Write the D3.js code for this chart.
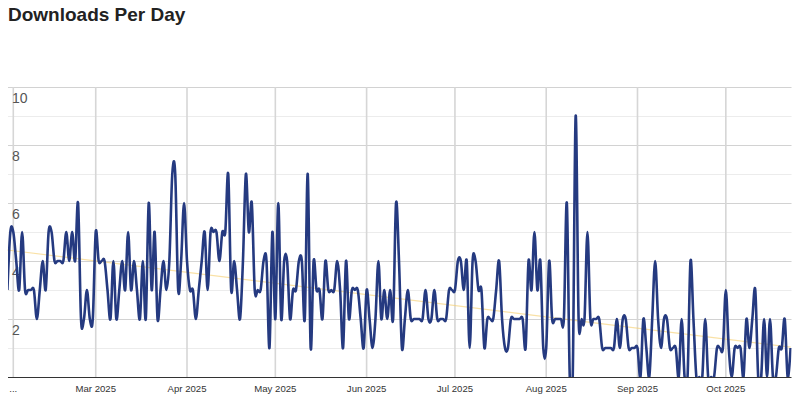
<!DOCTYPE html>
<html>
<head>
<meta charset="utf-8">
<script src="https://cdn.jsdelivr.net/npm/d3@7"></script>
<style>
  html, body { margin: 0; padding: 0; background: #fff; }
  svg { display: block; font-family: "Liberation Sans", Arial, sans-serif; }
</style>
</head>
<body>
<svg id="chart" width="800" height="400"></svg>
<script>
// ---- data ----
const title = "Downloads Per Day";
const startDate = "2025-01-30";
const endDate = "2025-10-23";
const downloads = [
  3,5,5,4,3,5,3,3,3,3,
  2,3,4,3,5,5,4,4,4,4,
  5,4,5,4,6,2,2,3,2,2,
  5,4,4,4,3,2,4,2,3,4,
  3,5,3,4,3,2,4,2,6,3,
  5,2,3,4,3,4,7,7,3,4,
  6,4,3,3,2,3,4,5,3,5,
  5,5,4,5,5,7,3,4,3,2,
  4,7,5,6,3,3,3,4,4,1,
  5,2,6,2,4,4,2,3,3,4,
  4,2,7,1,4,3,3,2,4,3,
  3,3,4,3,1,4,2,3,3,3,
  2,1,3,2,1,2,4,2,3,2,
  3,2,6,4,1,2,3,2,2,2,
  2,2,3,2,2,3,2,2,2,2,
  3,3,3,4,4,3,4,1,4,4,
  3,3,1,2,2,2,3,4,2,1,
  1,2,2,2,2,2,1,4,3,5,
  3,4,1,1,4,2,2,2,2,2,
  6,0,0,9,2,2,2,5,2,2,
  2,2,1,1,1,1,1,2,1,2,
  2,1,1,1,1,0,2,1,0,2,
  4,2,1,2,2,1,1,1,0,2,
  0,0,4,2,0,0,0,2,0,0,
  0,1,1,1,3,1,0,1,1,1,
  0,2,1,2,3,0,0,2,0,2,
  0,0,1,1,2,0,1
];
const trendValues = [4.38, 1.03];           // linear trend, start and end
const monthTicks = ["2025-02-01","2025-03-01","2025-04-01","2025-05-01","2025-06-01",
                    "2025-07-01","2025-08-01","2025-09-01","2025-10-01"];
const monthLabels = ["...","Mar 2025","Apr 2025","May 2025","Jun 2025",
                     "Jul 2025","Aug 2025","Sep 2025","Oct 2025"];
const yTicks = [1,2,3,4,5,6,7,8,9,10];
const yLabels = [2,4,6,8,10];

// ---- layout ----
const padL = 7.4, padR = 790.6, padT = 87, padB = 377;
const parse = d3.utcParse("%Y-%m-%d");
const t0 = parse(startDate), t1 = parse(endDate);
const series = downloads.map((v, i) => ({ date: d3.utcDay.offset(t0, i), value: v }));

const x = d3.scaleUtc().domain([t0, t1]).range([padL, padR]);
const y = d3.scaleLinear().domain([0, 10]).range([padB, padT]);
const gridL = 8, gridR = 791.5;

const svg = d3.select("#chart");

// title
svg.append("text")
  .attr("x", 8).attr("y", 21)
  .attr("font-size", 19).attr("font-weight", "bold")
  .attr("fill", "#222")
  .text(title);

// horizontal grid
svg.append("g").selectAll("line").data(yTicks).join("line")
  .attr("x1", gridL).attr("x2", gridR)
  .attr("y1", d => Math.round(y(d)) + 0.5).attr("y2", d => Math.round(y(d)) + 0.5)
  .attr("stroke", d => d % 2 === 0 ? "#d2d2d2" : "#ececec")
  .attr("stroke-width", 1.2);

// vertical grid
const vt = monthTicks.map(parse);
svg.append("g").selectAll("line").data(vt).join("line")
  .attr("x1", d => x(d)).attr("x2", d => x(d))
  .attr("y1", padT).attr("y2", padB)
  .attr("stroke", "#d6d6d6").attr("stroke-width", 1.6);

// y labels
svg.append("g").selectAll("text").data(yLabels).join("text")
  .attr("x", 12).attr("y", d => y(d) + 16)
  .attr("font-size", 14).attr("fill", "#555")
  .text(d => d);

// baseline
svg.append("line")
  .attr("x1", gridL).attr("x2", gridR)
  .attr("y1", padB + 0.5).attr("y2", padB + 0.5)
  .attr("stroke", "#333").attr("stroke-width", 1.2);

// x labels
svg.append("g").selectAll("text").data(vt).join("text")
  .attr("x", d => x(d)).attr("y", 392)
  .attr("text-anchor", "middle")
  .attr("font-size", 9.6).attr("fill", "#333")
  .text((d, i) => monthLabels[i]);

// clip
svg.append("defs").append("clipPath").attr("id", "plotclip")
  .append("rect").attr("x", gridL).attr("y", padT - 5)
  .attr("width", gridR - gridL).attr("height", padB - padT + 5);

// trend line
const trend = [{ date: t0, value: trendValues[0] }, { date: t1, value: trendValues[1] }];
svg.append("path")
  .datum(trend)
  .attr("fill", "none")
  .attr("stroke", "#f5cd6a").attr("stroke-opacity", 0.6).attr("stroke-width", 1.2)
  .attr("d", d3.line().x(d => x(d.date)).y(d => y(d.value)));

// main line
const line = d3.line()
  .x(d => x(d.date)).y(d => y(d.value))
  .curve(d3.curveCardinal.tension(0));
svg.append("g").attr("clip-path", "url(#plotclip)")
  .append("path")
  .datum(series)
  .attr("fill", "none")
  .attr("stroke", "#253a80")
  .attr("stroke-width", 2.6)
  .attr("stroke-linejoin", "round")
  .attr("d", line);
</script>
</body>
</html>
